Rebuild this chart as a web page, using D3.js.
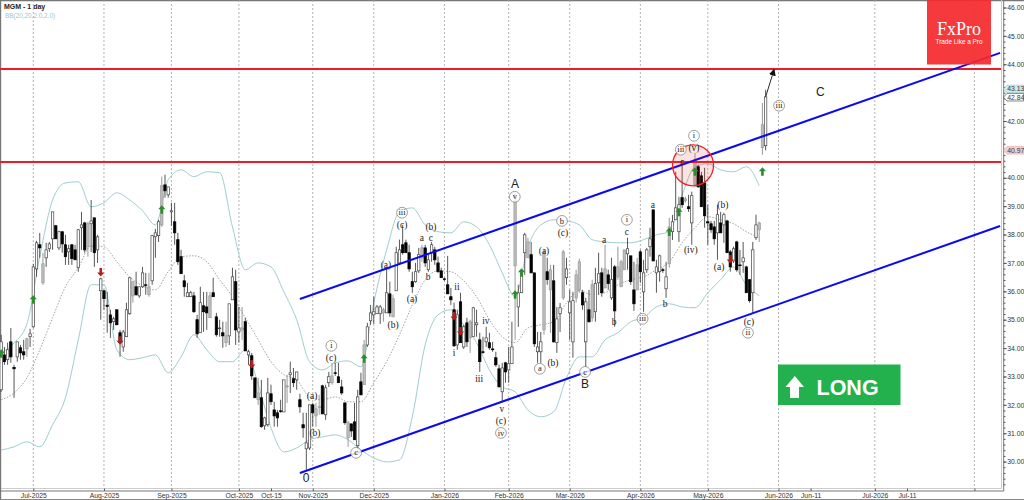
<!DOCTYPE html>
<html>
<head>
<meta charset="utf-8">
<title>MGM - 1 day</title>
<script src="https://cdn.jsdelivr.net/npm/d3@7/dist/d3.min.js"></script>
<style>
html, body { margin: 0; padding: 0; background: #fff; }
svg { display: block; }
.axis text { font-family: "Liberation Sans", sans-serif; font-size: 6.8px; fill: #333; }
.axis line { stroke: #555; }
.axis path { display: none; }
</style>
</head>
<body>
<div id="chart"></div>
<script>
// daily candles, one entry per bar
var opens = [
    32.53,33.76,33.59,34.22,33.32,33.69,34.01,33.87,33.97,34.40,
    34.75,36.79,37.64,36.30,37.18,37.50,37.85,38.31,37.53,38.10,
    37.64,37.39,37.64,37.46,36.83,38.24,38.41,37.57,38.38,38.59,
    37.46,36.02,36.02,35.51,35.17,34.93,35.35,34.54,34.04,34.40,
    35.21,35.84,36.16,35.84,36.16,36.23,35.88,36.37,37.92,37.96,
    38.34,39.75,39.40,38.80,38.45,37.82,37.22,36.37,35.81,35.81,
    35.84,35.00,34.54,35.49,35.45,35.07,35.95,35.10,34.69,34.54,
    34.19,34.43,35.70,36.34,34.57,34.64,34.93,33.76,33.73,32.95,
    32.18,32.25,31.26,31.30,32.39,31.82,31.72,31.79,31.75,32.63,
    33.06,32.92,32.88,32.18,31.30,30.45,30.48,32.00,31.61,31.91,
    32.67,31.65,32.78,32.78,33.13,32.99,32.63,32.07,30.84,31.33,
    31.40,30.56,32.81,32.71,34.11,34.96,35.17,35.21,35.21,35.24,
    35.24,35.91,35.10,36.02,37.00,37.64,37.71,37.36,36.34,36.34,
    36.72,37.18,37.53,36.76,37.36,37.46,37.00,36.72,36.44,36.23,
    35.81,35.35,34.11,35.63,34.04,34.89,34.36,34.40,34.82,34.29,
    33.87,34.22,34.19,33.97,33.66,33.27,32.46,33.48,33.23,33.45,
    36.90,35.45,35.95,37.36,37.18,37.29,36.65,33.87,33.87,34.64,
    36.69,36.05,36.37,34.19,35.21,35.77,36.48,35.24,34.22,35.77,
    36.05,35.95,34.22,35.35,35.07,35.28,36.30,36.65,36.12,36.58,
    35.77,36.86,36.51,36.16,36.76,37.32,37.25,36.05,36.05,37.39,
    35.98,36.76,37.57,38.87,36.65,36.69,36.76,36.09,36.97,38.10,
    38.52,38.10,39.30,39.19,38.98,38.41,39.75,40.39,40.07,39.82,
    38.45,38.38,38.27,38.06,38.41,38.34,38.48,37.39,37.07,37.74,
    36.93,37.04,36.86,36.41,35.95,37.89,38.17,41.06,41.13];
var highs = [
    34.47,34.04,34.19,34.71,33.41,34.22,34.11,34.29,34.36,34.68,
    36.97,37.78,38.06,37.36,37.71,37.74,38.80,38.34,38.13,38.10,
    37.99,37.64,37.67,37.64,38.20,38.80,38.45,38.45,39.22,38.59,
    37.99,36.48,36.05,35.98,35.35,35.10,35.35,34.64,34.64,35.60,
    36.48,36.34,36.69,36.16,36.86,36.65,36.65,37.99,38.20,38.52,
    40.04,40.11,39.68,39.12,39.12,38.06,37.46,36.58,36.30,36.02,
    35.98,35.17,36.16,35.98,35.98,35.98,36.48,35.24,35.00,34.93,
    34.93,35.56,36.83,36.76,35.45,35.45,35.07,33.94,33.83,32.95,
    32.95,32.88,31.58,32.95,32.71,32.11,31.82,32.18,32.88,33.06,
    33.52,33.30,33.16,32.39,31.72,31.72,32.00,32.07,32.07,32.35,
    32.71,32.71,33.16,33.48,33.48,33.48,32.88,32.07,31.44,31.33,
    32.07,32.53,33.13,34.29,34.89,35.52,35.81,35.52,35.52,35.42,
    36.83,36.34,35.88,37.57,37.82,38.34,37.82,37.64,36.69,37.00,
    37.53,37.64,37.64,37.29,37.74,37.57,37.22,36.83,36.48,37.25,
    36.12,35.60,35.35,35.95,34.82,35.07,35.00,35.45,35.35,34.54,
    34.40,34.75,34.54,34.22,33.87,33.41,33.48,33.52,34.04,34.93,
    39.47,36.23,36.76,38.06,37.89,37.74,36.65,34.57,34.57,37.46,
    37.18,36.93,36.93,35.45,35.59,37.46,37.18,36.05,35.98,36.76,
    37.15,36.05,35.77,36.05,36.41,36.83,37.36,36.83,37.64,36.76,
    37.18,36.93,37.57,37.11,37.46,37.89,37.25,37.04,37.18,37.46,
    37.11,37.53,38.24,38.87,37.11,37.29,36.83,37.04,38.59,38.69,
    40.21,39.33,40.63,39.33,39.40,39.51,40.88,40.46,40.21,40.35,
    39.05,38.48,38.48,39.05,38.80,38.77,38.52,37.46,37.57,37.78,
    37.46,37.74,36.90,36.41,37.74,38.70,38.45,42.64,43.10];
var lows = [
    32.46,33.41,33.41,33.48,32.25,33.52,33.59,33.59,33.69,34.04,
    34.71,36.51,37.18,36.23,36.86,37.39,37.46,37.85,37.46,37.36,
    36.93,36.93,36.93,37.11,36.69,37.46,37.36,37.22,37.39,36.86,
    37.00,35.00,35.35,34.54,34.36,34.64,34.82,33.69,33.87,34.40,
    35.17,35.60,35.84,35.77,36.12,35.88,35.81,36.23,37.18,37.74,
    38.27,39.30,39.30,38.31,37.64,36.93,36.62,35.81,35.81,35.81,
    35.24,34.36,34.54,34.57,34.64,35.07,35.81,34.40,34.40,34.01,
    34.04,34.11,35.70,34.11,34.19,34.29,33.90,33.41,32.88,32.25,
    32.00,31.19,31.12,31.23,32.00,31.23,31.23,31.72,31.75,32.07,
    32.42,32.63,32.53,31.72,30.84,29.71,30.41,31.23,31.23,31.65,
    31.68,31.47,32.63,32.71,33.02,32.78,32.35,31.30,30.52,30.87,
    30.77,30.38,32.35,32.71,34.04,34.82,34.85,35.21,34.85,34.93,
    35.24,35.10,35.10,36.02,36.93,37.29,37.36,36.69,35.95,36.30,
    36.65,37.04,36.86,36.69,37.04,36.93,36.65,36.48,36.37,35.91,
    35.52,34.04,33.94,34.19,33.97,34.04,33.83,34.40,34.40,33.16,
    33.80,34.04,33.94,33.87,33.34,32.63,32.11,32.78,32.78,33.45,
    34.29,34.75,35.95,36.58,37.18,36.65,34.04,33.48,33.48,34.47,
    36.23,34.54,34.19,33.83,34.57,35.70,36.23,34.29,33.66,35.60,
    35.95,35.35,33.34,34.89,34.93,34.93,35.88,35.81,36.12,36.05,
    35.70,34.75,36.41,36.16,36.76,36.76,36.23,35.31,36.05,36.30,
    35.28,36.65,37.22,37.07,35.95,36.34,36.65,35.77,36.83,37.81,
    38.52,37.74,38.94,39.12,38.80,37.64,39.68,39.65,38.98,38.24,
    37.64,38.06,37.64,37.11,38.06,37.71,37.36,36.69,37.00,36.69,
    36.58,36.65,35.95,35.60,35.24,37.81,37.74,40.81,40.97];
var closes = [
    34.22,33.52,33.94,33.69,33.27,34.22,33.83,33.76,34.33,34.50,
    36.86,37.71,37.53,36.97,37.46,37.67,38.80,37.85,38.10,37.67,
    37.22,37.50,37.15,37.11,38.17,38.34,37.46,38.38,38.48,37.36,
    37.92,36.44,35.74,35.47,34.89,35.03,34.82,34.19,34.57,35.35,
    36.48,36.34,35.88,36.16,36.65,36.21,36.16,37.96,38.06,38.45,
    39.72,39.54,39.68,38.84,38.06,37.04,36.62,36.16,35.95,35.95,
    35.28,34.50,35.60,35.28,35.24,35.84,35.81,34.47,34.71,34.43,
    34.43,35.56,36.51,34.64,34.71,34.71,33.90,33.87,33.02,32.25,
    32.42,31.23,31.54,32.42,32.11,31.61,31.54,31.77,32.88,32.67,
    33.13,32.78,33.16,31.93,31.19,30.66,32.00,31.72,31.86,31.93,
    31.68,32.60,32.99,33.02,33.11,32.78,32.42,31.37,31.37,31.08,
    30.77,32.28,32.35,34.11,34.75,35.24,35.28,35.45,35.45,35.35,
    35.95,35.24,35.74,37.36,37.46,37.36,37.36,36.79,36.16,36.69,
    37.29,37.53,37.00,37.11,37.64,37.11,36.69,36.48,36.42,35.91,
    35.70,34.08,35.17,34.19,34.75,34.22,34.93,35.42,34.89,33.52,
    33.85,34.36,34.01,33.95,33.41,32.63,33.30,33.16,33.45,34.04,
    39.33,35.95,36.65,37.99,37.74,36.65,34.15,34.04,34.22,37.39,
    36.41,36.76,34.22,35.03,35.42,37.39,36.79,35.63,35.67,36.58,
    37.04,35.52,35.63,34.93,36.23,36.27,36.62,35.95,36.79,36.27,
    36.41,35.31,36.86,37.04,37.46,37.50,36.34,35.56,36.93,36.69,
    36.65,37.46,37.85,37.07,36.86,37.25,36.74,36.51,38.27,38.45,
    38.94,39.05,39.05,39.26,38.91,39.37,40.60,39.68,38.98,38.66,
    38.41,38.17,37.85,38.70,38.06,38.70,37.36,36.86,37.50,36.76,
    36.92,37.18,35.95,35.67,37.46,38.34,38.41,41.87,42.85];
var grayBars = [8,13,27,41,46,50,65,70,75,80,89,98,99,103,108,113,119,122,131,146,160,
    164,169,171,175,179,180,184,188,192,193,194,198,208,213,216,236,237];

// bollinger bands, read every bandStep bars
var bandStep = 4;
var bandUpper = [33.83,34.18,34.85,37.22,39.22,39.82,39.86,38.98,39.12,39.47,
    39.22,38.84,38.34,39.93,40.28,40.04,40.21,40.18,38.27,36.76,
    37.00,36.86,35.98,35.00,33.52,33.23,33.48,33.55,33.34,35.60,
    37.46,38.80,38.94,38.34,38.10,38.06,38.45,38.27,37.64,36.65,
    35.81,37.57,38.34,38.52,38.48,38.34,37.82,37.74,37.71,37.71,
    37.82,37.99,38.10,39.40,40.39,40.49,40.28,40.21,40.39,39.72];
var bandMiddle = [32.18,32.42,32.95,33.94,35.07,36.16,36.83,37.60,37.57,37.04,
    36.51,36.19,36.05,36.69,37.22,37.25,37.04,36.41,35.81,35.07,
    34.29,33.52,33.06,32.88,32.28,32.18,32.28,32.11,32.11,32.78,
    33.52,34.47,35.52,36.41,36.72,36.69,36.37,35.81,35.00,34.40,
    34.19,34.71,34.82,34.93,35.59,36.02,35.88,35.95,36.23,36.41,
    36.51,36.76,37.04,37.71,38.24,38.63,38.52,38.38,38.10,37.89];
var bandLower = [30.41,30.52,30.70,30.52,31.30,32.25,34.29,36.23,36.23,33.94,
    33.59,33.66,33.76,33.13,33.69,34.47,33.94,33.52,33.52,33.94,
    32.71,31.19,30.34,30.48,30.77,30.87,30.94,30.77,30.41,30.13,
    29.99,30.06,31.58,34.11,35.17,35.35,34.82,34.19,33.23,32.63,
    32.46,31.82,31.58,31.75,32.95,33.69,33.69,34.29,34.54,34.93,
    35.07,35.45,35.56,35.45,35.42,35.95,36.41,36.86,36.23,35.84];

// trend channel and horizontal levels
var channelBars = [93, 311];
var channelUpper = [35.73, 44.40];
var channelLower = [29.60, 38.30];
var levels = [43.83, 40.56];
var arrowBars = [238, 240.6];
var arrowPrices = [42.85, 43.80];
var circleBar = 215.4, circlePrice = 40.44;

// buy and sell signal arrows
var upBars = [0,10,50,113,160,162,208,211,216,237];
var upPrices = [33.80,35.70,38.87,33.62,35.88,36.65,38.09,38.79,40.21,40.21];
var downBars = [31,37,78,141,143,227];
var downPrices = [36.68,34.28,33.44,35.13,34.60,37.14];

// elliott wave labels
var ringBars = [102.8,124.8,159.9,167.7,174.6,181.8,199.7,155.6,110.5,215.7,242.2,232.5,194.8,211.6];
var ringPrices = [34.08,38.77,39.33,33.27,38.48,33.16,35.03,31.01,30.31,41.48,42.54,34.54,38.52,40.99];
var ringTexts = ["i","iii","v","a","b","c","iii","iv","c","i","iii","ii","i","iii"];
var labelBars = [102.7,96.8,97.7,119.8,124.8,133.8,127.9,122,131,133.8,132.9,141.9,141,150.9,148.8,155.9,155.6,
    169,174.9,171.8,187.7,194.8,190.8,206.7,202.9,224.7,223.5,232.8,215.7,214.7,212];
var labelPrices = [33.66,32.32,31.01,36.93,38.34,38.27,35.74,34.82,37.89,37.89,36.51,36.16,33.83,34.96,32.92,31.86,31.44,
    37.43,38.06,33.48,37.82,38.10,34.93,35.56,39.05,39.05,36.86,34.93,41.06,37.46,40.56];
var labelTexts = ["(c)","(a)","(b)","(a)","(c)","(b)","(a)","(b)","a","c","b","ii","i","iv","iii","v","(c)",
    "(a)","(c)","(b)","a","c","b","b","a","(b)","(a)","(c)","(v)","(iv)","c"];
var majorBars = [160,181.8,255,94.9];
var majorPrices = [39.79,32.74,43.03,29.43];
var majorTexts = ["A","B","C","0"];

// axes
var priceTicks = [46,45,44,42,40,39,38,37,36,35,34,33,32,31,30];
var dateBars = [10,32,53,74,84,97,116,138,158,177,199,220,242,252,272,282,303];
var dateLabels = ["Jul-2025","Aug-2025","Sep-2025","Oct-2025","Oct-15","Nov-2025","Dec-2025","Jan-2026","Feb-2026",
    "Mar-2026","Apr-2026","May-2026","Jun-2026","Jun-11","Jul-2026","Jul-11",""];
var gridBars = [10,32,53,74,97,116,138,158,177,199,220,242,272,303];
var tagPrices = [43.13,42.84,40.97];
var tagFills = ["#d3e8e8","#ffffff","#f6cfcf"];
var tagStrokes = ["#9cc7c9","#333333","#e0a5a5"];

var w = 1024;
var h = 500;
var plotRight = 1001;
var plotBottom = 487;

var x = d3.scaleLinear().domain([0, 311]).range([1.2, 1000.1]);
var y = d3.scaleLinear().domain([30, 46]).range([461.6, 7.5]);

var svg = d3.select("#chart")
    .append("svg")
    .attr("width", w)
    .attr("height", h);

svg.append("rect").attr("width", w).attr("height", h).attr("fill", "#fff");

svg.append("defs").append("clipPath")
    .attr("id", "plot")
    .append("rect")
    .attr("width", plotRight)
    .attr("height", plotBottom);

// frame
var frame = svg.append("g").attr("fill", "none");
frame.append("path").attr("d", "M0.5,500V0.5H1024").attr("stroke", "#777").attr("stroke-width", 1.4);
frame.append("path").attr("d", "M1,488.5H1001.5V0").attr("stroke", "#ccc");
frame.append("path").attr("d", "M0,491H1003.7V0").attr("stroke", "#777");
frame.append("path").attr("d", "M0,499.5H1024").attr("stroke", "#888");

// month grid
svg.append("g").selectAll("line")
    .data(gridBars)
    .enter()
    .append("line")
    .attr("x1", function (d) { return x(d); })
    .attr("x2", function (d) { return x(d); })
    .attr("y1", 0)
    .attr("y2", plotBottom)
    .attr("stroke", "#a0a0a0")
    .attr("stroke-width", 0.8)
    .attr("stroke-dasharray", "2,2");

var chart = svg.append("g").attr("clip-path", "url(#plot)");

// bollinger lines
function bandLine(values) {
    return d3.line()
        .x(function (d, i) { return x(i * bandStep); })
        .y(function (d) { return y(d); })
        .curve(d3.curveMonotoneX)(values);
}
[bandUpper, bandLower].forEach(function (values) {
    chart.append("path")
        .attr("d", bandLine(values))
        .attr("fill", "none")
        .attr("stroke", "#a0cdd0")
        .attr("stroke-width", 1);
});
chart.append("path")
    .attr("d", bandLine(bandMiddle))
    .attr("fill", "none")
    .attr("stroke", "#8a8a8a")
    .attr("stroke-width", 0.8)
    .attr("stroke-dasharray", "1.5,1.5");

// candles
var candles = chart.append("g").selectAll("g")
    .data(opens)
    .enter()
    .append("g");

function isGray(i) {
    return grayBars.indexOf(i) >= 0;
}
candles.append("line")
    .attr("x1", function (d, i) { return x(i); })
    .attr("x2", function (d, i) { return x(i); })
    .attr("y1", function (d, i) { return y(highs[i]); })
    .attr("y2", function (d, i) { return y(lows[i]); })
    .attr("stroke", function (d, i) { return isGray(i) ? "#8c8c8c" : "#444"; })
    .attr("stroke-width", 0.9);
candles.append("rect")
    .attr("x", function (d, i) { return x(i) - 1.2; })
    .attr("width", 2.4)
    .attr("y", function (d, i) { return y(Math.max(d, closes[i])); })
    .attr("height", function (d, i) { return Math.max(0.8, Math.abs(y(d) - y(closes[i]))); })
    .attr("fill", function (d, i) {
        if (isGray(i)) return "#bdbdbd";
        return closes[i] < d ? "#000" : "#fff";
    })
    .attr("stroke", function (d, i) {
        if (isGray(i)) return "#9a9a9a";
        return closes[i] < d ? "#000" : "#444";
    })
    .attr("stroke-width", 0.7);

// horizontal levels
chart.append("g").selectAll("line")
    .data(levels)
    .enter()
    .append("line")
    .attr("x1", 0)
    .attr("x2", plotRight)
    .attr("y1", function (d) { return y(d); })
    .attr("y2", function (d) { return y(d); })
    .attr("stroke", "#ee1c25")
    .attr("stroke-width", 2);

// channel
[channelUpper, channelLower].forEach(function (values) {
    chart.append("line")
        .attr("x1", x(channelBars[0]))
        .attr("x2", x(channelBars[1]))
        .attr("y1", y(values[0]))
        .attr("y2", y(values[1]))
        .attr("stroke", "#0a0af0")
        .attr("stroke-width", 2);
});

// breakout circle
chart.append("circle")
    .attr("cx", x(circleBar))
    .attr("cy", y(circlePrice))
    .attr("r", 20.5)
    .attr("fill", "rgba(240,30,30,0.13)")
    .attr("stroke", "#ee2222")
    .attr("stroke-width", 1.3);

// signal arrows
var arrowShape = "M0,-4.5L3.6,-0.5H1.3V4H-1.3V-0.5H-3.6Z";
svg.append("g").selectAll("path")
    .data(upBars)
    .enter()
    .append("path")
    .attr("d", arrowShape)
    .attr("fill", "#2a8f2a")
    .attr("transform", function (d, i) { return "translate(" + x(d) + "," + y(upPrices[i]) + ")"; });
svg.append("g").selectAll("path")
    .data(downBars)
    .enter()
    .append("path")
    .attr("d", arrowShape)
    .attr("fill", "#b01e1e")
    .attr("transform", function (d, i) { return "translate(" + x(d) + "," + y(downPrices[i]) + ") rotate(180)"; });

// forecast arrow
svg.append("defs").append("marker")
    .attr("id", "head")
    .attr("viewBox", "0 0 10 10")
    .attr("refX", 8)
    .attr("refY", 5)
    .attr("markerUnits", "userSpaceOnUse")
    .attr("markerWidth", 7)
    .attr("markerHeight", 7)
    .attr("orient", "auto")
    .append("path")
    .attr("d", "M0,0L10,5L0,10Z")
    .attr("fill", "#111");
svg.append("line")
    .attr("x1", x(arrowBars[0]))
    .attr("x2", x(arrowBars[1]))
    .attr("y1", y(arrowPrices[0]))
    .attr("y2", y(arrowPrices[1]))
    .attr("stroke", "#111")
    .attr("stroke-width", 0.9)
    .attr("marker-end", "url(#head)");

// wave labels
var rings = svg.append("g").selectAll("g")
    .data(ringTexts)
    .enter()
    .append("g")
    .attr("transform", function (d, i) { return "translate(" + x(ringBars[i]) + "," + y(ringPrices[i]) + ")"; });
rings.append("circle")
    .attr("r", 5.4)
    .attr("fill", "#fff")
    .attr("fill-opacity", 0.85)
    .attr("stroke", "#777")
    .attr("stroke-width", 0.7);
rings.append("text")
    .attr("text-anchor", "middle")
    .attr("dy", 2.6)
    .attr("font-family", "'Liberation Serif', serif")
    .attr("font-size", 8.5)
    .attr("fill", "#222")
    .text(function (d) { return d; });

svg.append("g").selectAll("text")
    .data(labelTexts)
    .enter()
    .append("text")
    .attr("x", function (d, i) { return x(labelBars[i]); })
    .attr("y", function (d, i) { return y(labelPrices[i]); })
    .attr("dy", 3)
    .attr("text-anchor", "middle")
    .attr("font-family", "'Liberation Serif', serif")
    .attr("font-size", 9.5)
    .attr("fill", "#222")
    .text(function (d) { return d; });

svg.append("g").selectAll("text")
    .data(majorTexts)
    .enter()
    .append("text")
    .attr("x", function (d, i) { return x(majorBars[i]); })
    .attr("y", function (d, i) { return y(majorPrices[i]); })
    .attr("dy", 4.5)
    .attr("text-anchor", "middle")
    .attr("font-family", "'Liberation Sans', sans-serif")
    .attr("font-size", 12)
    .attr("fill", "#222")
    .text(function (d) { return d; });

// fxpro logo, the channel shows through it
var logo = svg.append("g");
logo.append("rect")
    .attr("x", 927)
    .attr("y", 0)
    .attr("width", 64)
    .attr("height", 64.5)
    .attr("fill", "#f42a2d")
    .attr("fill-opacity", 0.93);
logo.append("text")
    .attr("x", 959)
    .attr("y", 34.5)
    .attr("text-anchor", "middle")
    .attr("font-family", "'Liberation Serif', serif")
    .attr("font-size", 18)
    .attr("fill", "#fff")
    .text("FxPro");
logo.append("text")
    .attr("x", 959)
    .attr("y", 44)
    .attr("text-anchor", "middle")
    .attr("font-family", "'Liberation Sans', sans-serif")
    .attr("font-size", 6.4)
    .attr("fill", "#fff")
    .text("Trade Like a Pro");

// long badge
var badge = svg.append("g");
badge.append("rect")
    .attr("x", 778)
    .attr("y", 364.5)
    .attr("width", 122.5)
    .attr("height", 40.5)
    .attr("fill", "#23b14d");
badge.append("path")
    .attr("d", "M794.8,376L804,387H799V398H790V387H785.5Z")
    .attr("fill", "#fff");
badge.append("text")
    .attr("x", 816.5)
    .attr("y", 394.7)
    .attr("font-family", "'Liberation Sans', sans-serif")
    .attr("font-weight", "bold")
    .attr("font-size", 21.5)
    .attr("fill", "#fff")
    .text("LONG");

// title
svg.append("text")
    .attr("x", 4)
    .attr("y", 9.2)
    .attr("font-family", "'Liberation Sans', sans-serif")
    .attr("font-weight", "bold")
    .attr("font-size", 7)
    .attr("fill", "#222")
    .text("MGM - 1 day");
svg.append("text")
    .attr("x", 5)
    .attr("y", 18.2)
    .attr("font-family", "'Liberation Sans', sans-serif")
    .attr("font-size", 6.4)
    .attr("fill", "#9cc7c9")
    .text("BB(20,20,2.0,2.0)");

// price axis
svg.append("g")
    .attr("class", "axis")
    .attr("transform", "translate(1003.7,0)")
    .call(d3.axisRight(y)
        .tickValues(d3.range(146, 231).map(function (d) { return d / 5; }))
        .tickSize(1.8)
        .tickFormat(""));
svg.append("g")
    .attr("class", "axis")
    .attr("transform", "translate(1003.7,0)")
    .call(d3.axisRight(y)
        .tickValues(priceTicks)
        .tickSize(3)
        .tickPadding(0.5)
        .tickFormat(d3.format(".2f")));

// date axis
svg.append("g")
    .attr("class", "axis")
    .attr("transform", "translate(0,491)")
    .call(d3.axisBottom(x)
        .tickValues(dateBars)
        .tickSize(-2.5)
        .tickPadding(2)
        .tickFormat(function (d, i) { return dateLabels[i]; }));

// price tags
var tags = svg.append("g").selectAll("g")
    .data(tagPrices)
    .enter()
    .append("g")
    .attr("transform", function (d) { return "translate(1003.5," + y(d) + ")"; });
tags.append("path")
    .attr("d", "M0,0L3.5,-3.8H20.3V3.8H3.5Z")
    .attr("fill", function (d, i) { return tagFills[i]; })
    .attr("stroke", function (d, i) { return tagStrokes[i]; })
    .attr("stroke-width", 0.6);
tags.append("text")
    .attr("x", 3.8)
    .attr("dy", 2.4)
    .attr("font-family", "'Liberation Sans', sans-serif")
    .attr("font-size", 6.8)
    .attr("fill", "#333")
    .text(function (d) { return d.toFixed(2); });
</script>
</body>
</html>
